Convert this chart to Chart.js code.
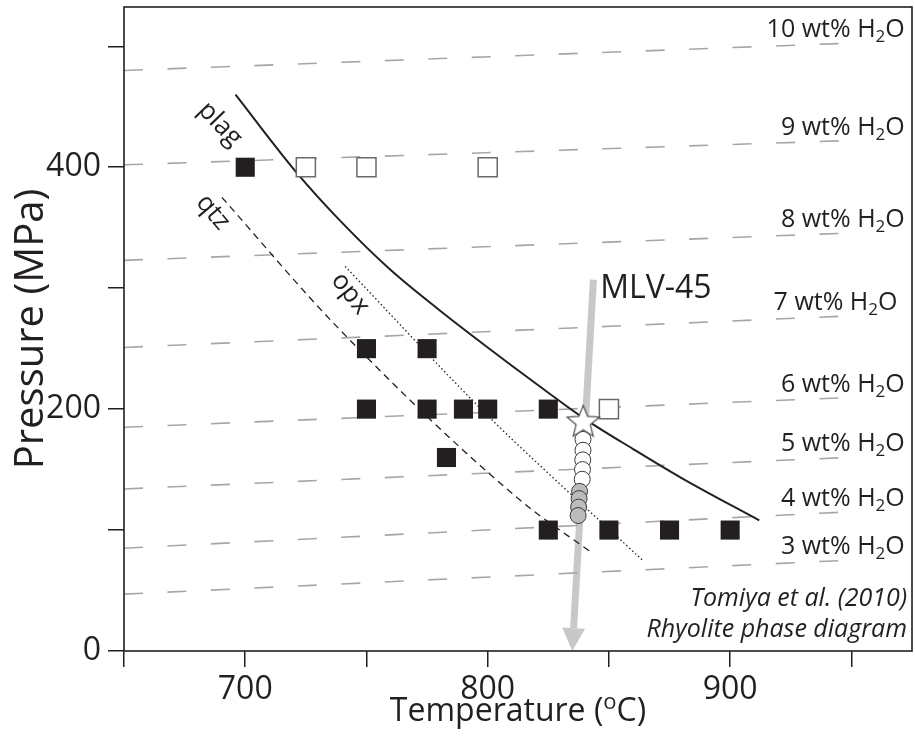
<!DOCTYPE html>
<html>
<head>
<meta charset="utf-8">
<title>Rhyolite phase diagram</title>
<script src="https://cdn.jsdelivr.net/npm/chart.js@4.4.1/dist/chart.umd.min.js"></script>
<style>
  html, body { margin: 0; padding: 0; background: #fff; }
  #wrap { width: 915px; height: 743px; }
</style>
</head>
<body>
<div id="wrap"><canvas id="phaseChart" width="915" height="743"></canvas></div>
<script>
// experimental runs, temperature (°C) / pressure (MPa)
const filledT = [700, 750, 775, 750, 775, 790, 800, 825, 783, 825, 850, 875, 900];
const filledP = [400, 250, 250, 200, 200, 200, 200, 200, 160, 100, 100, 100, 100];
const openT = [725, 750, 800, 850];
const openP = [400, 400, 400, 200];

// phase-in boundaries
const plagT = [696, 721, 740, 760, 780, 800, 820, 840, 860, 880, 912];
const plagP = [460, 396, 354, 315, 282, 251, 221, 192, 167, 143, 108];
const qtzT = [690.4, 737.9, 813.2, 843.1];
const qtzP = [375, 268, 125, 81];
const opxT = [741.2, 800.3, 863.9];
const opxP = [318, 194, 75];

// H2O isopleths: pressure at the left (650 °C) and right (948 °C) ends
const isoWater = [10, 9, 8, 7, 6, 5, 4, 3];
const isoT = [650, 948];
const isoLeftP = [480, 402, 323, 251, 185, 134, 85, 47];
const isoRightP = [502.5, 422, 345.5, 277, 209.5, 160, 115, 75];

// MLV-45 path
const starT = [839.4];
const starP = [189];
const whiteT = [839.3, 839.3, 839.2, 839.1, 839.0];
const whiteP = [175, 166, 158, 150, 142];
const greyT = [837.9, 837.7, 837.5, 837.3];
const greyP = [132, 126, 119, 112];
const arrowT = [843.6, 834.9];
const arrowP = [307, 0];

// axes
const xTicks = [650, 700, 750, 800, 850, 900, 950];
const xLabelled = [700, 800, 900];
const yTicks = [0, 100, 200, 300, 400, 500];
const yLabelled = [0, 200, 400];

const INK = '#231f20';
const FONT = '"Open Sans", "Noto Sans", sans-serif';

const pts = (xs, ys) => xs.map((x, i) => ({ x: x, y: ys[i] }));

// white star with grey outline for the starting point
function makeStar(outer, inner) {
    const c = document.createElement('canvas');
    const s = Math.ceil(outer * 2 + 4);
    c.width = s; c.height = s;
    const g = c.getContext('2d');
    g.translate(s / 2, s / 2);
    g.beginPath();
    for (let i = 0; i < 10; i++) {
        const r = i % 2 === 0 ? outer : inner;
        const a = -Math.PI / 2 + i * Math.PI / 5;
        g.lineTo(r * Math.cos(a), r * Math.sin(a));
    }
    g.closePath();
    g.fillStyle = '#fff';
    g.fill();
    g.lineWidth = 1.2;
    g.strokeStyle = '#4a4a4a';
    g.stroke();
    return c;
}

// text with sub/superscript runs: parts = [[text, 'sub'|'sup'|''], ...]
function drawRich(ctx, parts, x, y, size, align, style) {
    const fontOf = p => (style || '') + ' ' + (p[1] ? Math.round(size * 0.68) : size) + 'px ' + FONT;
    let w = 0;
    parts.forEach(p => { ctx.font = fontOf(p); w += ctx.measureText(p[0]).width; });
    let cx = align === 'right' ? x - w : align === 'center' ? x - w / 2 : x;
    ctx.textAlign = 'left';
    ctx.textBaseline = 'alphabetic';
    parts.forEach(p => {
        ctx.font = fontOf(p);
        const dy = p[1] === 'sub' ? size * 0.2 : p[1] === 'sup' ? -size * 0.36 : 0;
        ctx.fillText(p[0], cx, y + dy);
        cx += ctx.measureText(p[0]).width;
    });
}

// grey MLV-45 arrow, drawn under the datasets
const arrowPlugin = {
    id: 'mlvArrow',
    beforeDatasetsDraw(chart) {
        const { ctx, scales: { x, y } } = chart;
        const x0 = x.getPixelForValue(arrowT[0]), y0 = y.getPixelForValue(arrowP[0]);
        const x1 = x.getPixelForValue(arrowT[1]), y1 = y.getPixelForValue(arrowP[1]);
        const ang = Math.atan2(y1 - y0, x1 - x0);
        const headLen = 23, headHalf = 11.5;
        const bx = x1 - headLen * Math.cos(ang), by = y1 - headLen * Math.sin(ang);
        ctx.save();
        ctx.strokeStyle = '#c8c8c8';
        ctx.fillStyle = '#c8c8c8';
        ctx.lineWidth = 7;
        ctx.beginPath();
        ctx.moveTo(x0, y0);
        ctx.lineTo(bx, by);
        ctx.stroke();
        ctx.beginPath();
        ctx.moveTo(x1, y1);
        ctx.lineTo(bx + headHalf * Math.sin(ang), by - headHalf * Math.cos(ang));
        ctx.lineTo(bx - headHalf * Math.sin(ang), by + headHalf * Math.cos(ang));
        ctx.closePath();
        ctx.fill();
        ctx.restore();
    }
};

// frame, axis titles and labels
const labelPlugin = {
    id: 'phaseLabels',
    afterDraw(chart) {
        const { ctx, chartArea: a, scales: { x, y } } = chart;
        ctx.save();
        ctx.strokeStyle = INK;
        ctx.lineWidth = 1.6;
        ctx.strokeRect(a.left, a.top, a.right - a.left, a.bottom - a.top);

        ctx.fillStyle = INK;
        // isopleth labels sit just above the end of each line
        isoWater.forEach((w, i) => {
            const tx = x.getPixelForValue(w === 7 ? 969 : 972);
            const ty = y.getPixelForValue(isoRightP[i]) - 6;
            drawRich(ctx, [[w + ' wt% H', ''], ['2', 'sub'], ['O', '']], tx, ty, 25, 'right');
        });

        // mineral names along their curves
        const rot = (txt, T, P, deg, size) => {
            ctx.save();
            ctx.translate(x.getPixelForValue(T), y.getPixelForValue(P));
            ctx.rotate(deg * Math.PI / 180);
            ctx.font = size + 'px ' + FONT;
            ctx.textAlign = 'center';
            ctx.textBaseline = 'middle';
            ctx.fillText(txt, 0, 0);
            ctx.restore();
        };
        rot('plag', 689.6, 435.6, 46, 26);
        rot('qtz', 686.7, 362.7, 50, 26);
        rot('opx', 743.3, 295.6, 52, 26);

        ctx.font = '32px ' + FONT;
        ctx.textAlign = 'left';
        ctx.textBaseline = 'alphabetic';
        ctx.fillText('MLV-45', x.getPixelForValue(846.4), y.getPixelForValue(292));

        drawRich(ctx, [['Tomiya et al. (2010)', '']], a.right - 5, 606, 25, 'right', 'italic');
        drawRich(ctx, [['Rhyolite phase diagram', '']], a.right - 5, 637, 25, 'right', 'italic');

        // axis titles
        drawRich(ctx, [['Temperature (', ''], ['o', 'sup'], ['C)', '']], (a.left + a.right) / 2, 721, 32, 'center');
        ctx.save();
        ctx.translate(43, (a.top + a.bottom) / 2);
        ctx.rotate(-Math.PI / 2);
        drawRich(ctx, [['Pressure (MPa)', '']], 0, 0, 40, 'center');
        ctx.restore();
        ctx.restore();
    }
};

// keep the plot box fixed: no extra room for half-height tick labels
const noScalePadding = s => {
    s.paddingTop = 0; s.paddingBottom = 0; s.paddingLeft = 0; s.paddingRight = 0;
};

const squareRadius = 13.5;
const datasets = [
    {
        data: pts(starT, starP), pointStyle: makeStar(17, 7.5), pointRadius: 17, order: 0
    },
    {
        data: pts(greyT, greyP), pointStyle: 'circle', pointRadius: 8,
        backgroundColor: '#bcbcbc', borderColor: '#3a3a3a', borderWidth: 1, order: 1
    },
    {
        data: pts(whiteT, whiteP), pointStyle: 'circle', pointRadius: 8,
        backgroundColor: '#fff', borderColor: '#3a3a3a', borderWidth: 1, order: 2
    },
    {
        data: pts(openT, openP), pointStyle: 'rect', pointRadius: squareRadius,
        backgroundColor: '#fff', borderColor: '#6a6a6a', borderWidth: 1.5, order: 3
    },
    {
        data: pts(filledT, filledP), pointStyle: 'rect', pointRadius: squareRadius,
        backgroundColor: INK, borderColor: INK, borderWidth: 0, order: 4
    },
    {
        data: pts(plagT, plagP), showLine: true, pointRadius: 0, borderColor: INK,
        borderWidth: 2, cubicInterpolationMode: 'monotone', order: 5
    },
    {
        data: pts(opxT, opxP), showLine: true, pointRadius: 0, borderColor: INK,
        borderWidth: 1.3, borderDash: [1.5, 2.5], tension: 0.3, order: 6
    },
    {
        data: pts(qtzT, qtzP), showLine: true, pointRadius: 0, borderColor: INK,
        borderWidth: 1.3, borderDash: [7, 5], cubicInterpolationMode: 'monotone', order: 7
    }
];
isoWater.forEach((w, i) => {
    datasets.push({
        data: pts(isoT, [isoLeftP[i], isoRightP[i]]), showLine: true, pointRadius: 0,
        borderColor: '#a6a6a6', borderWidth: 1.6, borderDash: [19, 24.5], order: 8
    });
});

new Chart(document.getElementById('phaseChart'), {
    type: 'scatter',
    data: { datasets: datasets },
    options: {
        responsive: false,
        animation: false,
        devicePixelRatio: 1,
        layout: { autoPadding: false, padding: { top: 7, right: 3, left: 0, bottom: 0 } },
        plugins: { legend: { display: false }, tooltip: { enabled: false } },
        scales: {
            x: {
                type: 'linear', min: 650, max: 975,
                afterFit: s => { s.height = 92; noScalePadding(s); },
                afterBuildTicks: s => { s.ticks = xTicks.map(v => ({ value: v })); },
                border: { display: false },
                grid: { drawOnChartArea: false, drawTicks: true, tickLength: 16, color: INK, lineWidth: 1.5 },
                ticks: {
                    padding: 4, color: INK, font: { family: FONT, size: 32 }, maxRotation: 0,
                    callback: v => xLabelled.includes(v) ? String(v) : ''
                }
            },
            y: {
                type: 'linear', min: 0, max: 532.5,
                afterFit: s => { s.width = 124; noScalePadding(s); },
                afterBuildTicks: s => { s.ticks = yTicks.map(v => ({ value: v })); },
                border: { display: false },
                grid: { drawOnChartArea: false, drawTicks: true, tickLength: 16, color: INK, lineWidth: 1.5 },
                ticks: {
                    padding: 7, color: INK, font: { family: FONT, size: 32 },
                    callback: v => yLabelled.includes(v) ? String(v) : ''
                }
            }
        }
    },
    plugins: [arrowPlugin, labelPlugin]
});
</script>
</body>
</html>
